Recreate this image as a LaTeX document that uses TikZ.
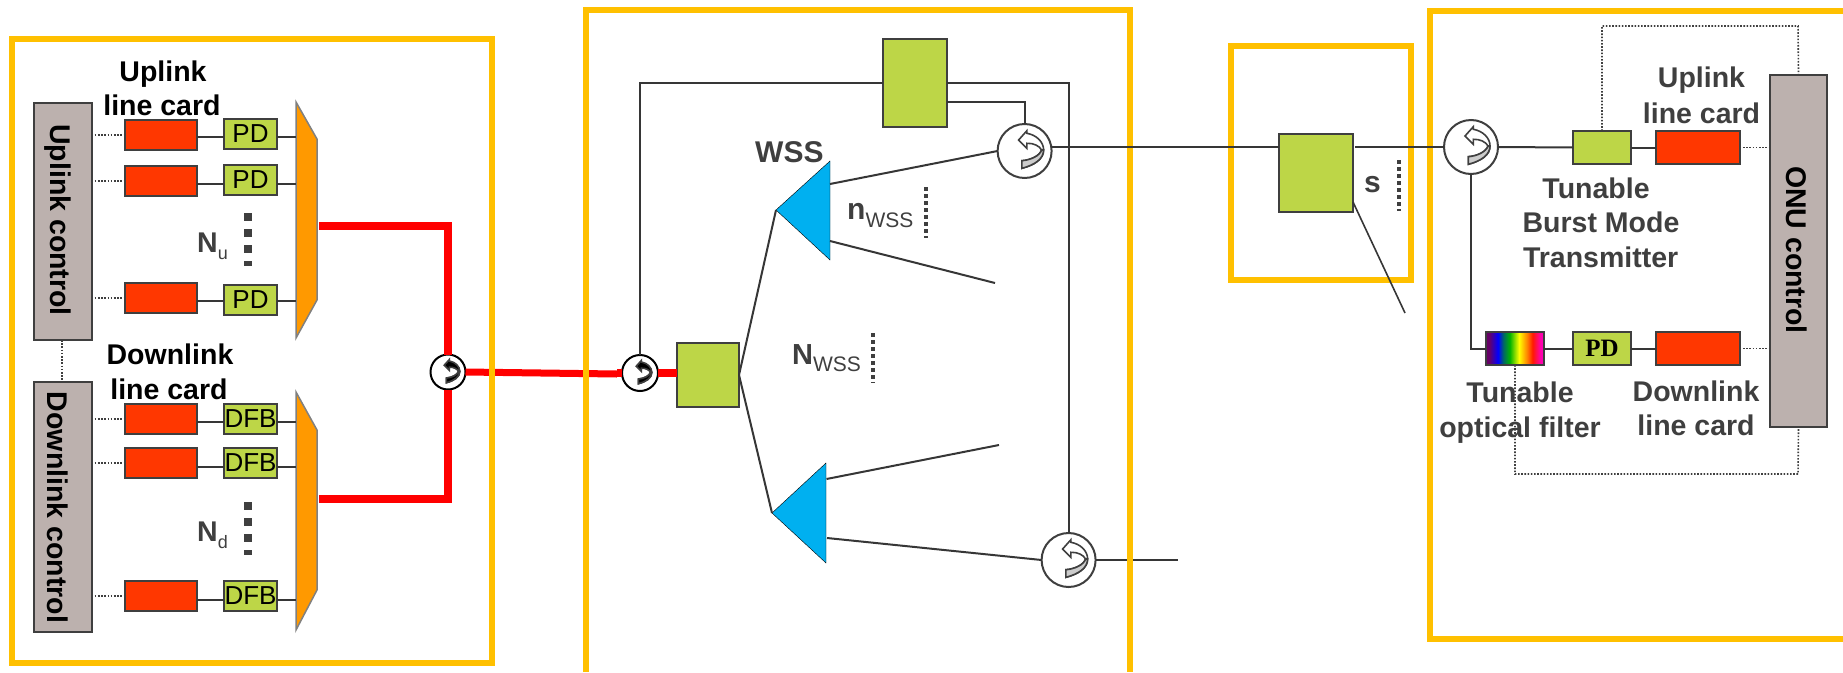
\documentclass[tikz,border=0pt]{standalone}
\usepackage{fontspec}
\setmainfont{Liberation Sans}
\newfontfamily\pdserif{Liberation Serif}
\usepackage{xcolor}
\definecolor{frameyellow}{HTML}{FFC000}
\definecolor{ctrlgray}{HTML}{BCB1AE}
\definecolor{cardred}{HTML}{FF3700}
\definecolor{boxgreen}{HTML}{BDD647}
\definecolor{muxorange}{HTML}{FF9900}
\definecolor{wssblue}{HTML}{00B0F0}
\definecolor{inkgray}{HTML}{3F3F3F}
\pgfdeclarehorizontalshading{rainbowband}{100bp}{color(0bp)=(violet!80!black); color(28bp)=(violet!80!black); color(35.5bp)=(blue); color(40bp)=(blue!50!green!80!black); color(45.5bp)=(green!70!black); color(53.5bp)=(yellow); color(60.5bp)=(orange); color(65bp)=(red!80!orange); color(72bp)=(magenta!70!red); color(100bp)=(magenta!70!red)}
\tikzset{
  frame/.style={draw=frameyellow,line width=6pt},
  fibre/.style={draw=inkgray!85!black,line width=2pt},
  redfibre/.style={draw=red,line width=8pt},
  ctrlline/.style={draw=inkgray,line width=1.6pt,dash pattern=on 1.6pt off 1.6pt},
  ctrlbox/.style={draw=inkgray,line width=2pt,fill=ctrlgray,inner sep=0pt,outer sep=0pt,minimum width=58pt},
  card/.style={draw=inkgray,line width=2pt,fill=cardred,inner sep=0pt,outer sep=0pt,minimum width=72pt,minimum height=30pt},
  onucard/.style={card,minimum width=84pt,minimum height=33pt},
  greenbox/.style={draw=inkgray,line width=2pt,fill=boxgreen,inner sep=0pt,outer sep=0pt,font=\fontsize{26}{26}\selectfont},
  smallgreen/.style={greenbox,minimum width=53pt,minimum height=30pt},
  onugreen/.style={greenbox,minimum width=58pt,minimum height=33pt},
  circulator/.style={circle,draw=inkgray,line width=2pt,fill=white,inner sep=0pt,outer sep=0pt,minimum size=54pt},
  minicirc/.style={circle,draw=black,line width=2pt,fill=white,inner sep=0pt,outer sep=0pt,minimum size=35pt},
  mux/.style={draw=gray,line width=1.5pt,fill=muxorange},
  wss/.style={fill=wssblue},
  blacklabel/.style={font=\fontsize{28.5}{30}\selectfont\bfseries,anchor=base,inner sep=0pt},
  graylabel/.style={blacklabel,text=inkgray},
  sidelabel/.style={blacklabel,rotate=-90,anchor=center},
  bigdots/.style={draw=inkgray,line width=8pt,dash pattern=on 8pt off 8pt},
  tinydots/.style={draw=inkgray,line width=3.5pt,dash pattern=on 3.5pt off 3.5pt},
  pics/circarrow/.style n args={2}{code={
    \filldraw[draw=inkgray,line width=1.6pt,fill=#1] (-6,-11) -- (2.3,-20.3) -- (2.3,-17.7) .. controls (12,-16) and (19,-9) .. (19,-1) .. controls (19,8) and (10,14) .. (-2.7,17.3) -- (-2.7,9.7) .. controls (6,9) and (15,5) .. (17,-1) .. controls (15,-5) and (9,-8) .. (2.3,-7.7) -- (2.3,-2.7) -- cycle;
    \filldraw[draw=inkgray,line width=1.6pt,fill=#2] (19,-1) .. controls (19,8) and (10,14) .. (-2.7,17.3) -- (-2.7,9.7) .. controls (6,9) and (15,5) .. (17,-1) -- cycle;
  }}
}

\begin{document}
\begin{tikzpicture}[x=1pt,y=-1pt]
\useasboundingbox (0,0) rectangle (1843,672);
% red trunk goes under the frames
\coordinate (muxuout) at (319,226);
\coordinate (muxdout) at (319,499);
\coordinate (trunkbend) at (617,374);
\node[minicirc] (headc) at (448,372) {};
\node[minicirc,minimum size=36pt] (splitc) at (640,373) {};
\node[greenbox,minimum width=62pt,minimum height=64pt] (split) at (708,375) {};
\draw[redfibre] (muxuout) -| (headc.north);
\draw[redfibre] (muxdout) -| (headc.south);
\draw[redfibre,line width=7pt] (headc.east) -- (trunkbend);
\draw[redfibre] (trunkbend |- splitc) -- (splitc.west);
\draw[redfibre] (splitc.east) -- (split.west |- splitc);
% frames
\draw[frame] (12,39) rectangle (492,663);
\draw[frame] (586,672) -- (586,10) -- (1130,10) -- (1130,672);
\draw[frame] (1231,46) rectangle (1411,280);
\draw[frame] (1843,11) -- (1430,11) -- (1430,639) -- (1843,639);

% uplink side of the head end
\node[ctrlbox,minimum height=237pt] (upctrl) at (62.5,221.5) {};
\node[sidelabel] (upctrltxt) at (58,220) {Uplink control};
\node[card] (ured1) at (161,135) {};
\node[card] (ured2) at (161,181) {};
\node[card] (ured3) at (161,298) {};
\node[smallgreen] (upd1) at (250.5,134) {PD};
\node[smallgreen] (upd2) at (250.5,180) {PD};
\node[smallgreen] (upd3) at (250.5,300) {PD};
\coordinate (muxu) at (296,220);
\filldraw[mux] (296,102) -- (317,139) -- (317,300) -- (296,338) -- cycle;
\draw[ctrlline] (upctrl.east |- ured1) -- (ured1.west);
\draw[ctrlline] (upctrl.east |- ured2) -- (ured2.west);
\draw[ctrlline] (upctrl.east |- ured3) -- (ured3.west);
\draw[fibre] ([yshift=-2pt]ured1.east) -- ([yshift=-3pt]upd1.west);
\draw[fibre] ([yshift=-3pt]ured2.east) -- ([yshift=-4pt]upd2.west);
\draw[fibre] ([yshift=-3pt]ured3.east) -- ([yshift=-1pt]upd3.west);
\draw[fibre] ([yshift=-3pt]upd1.east) -- ([yshift=-3pt]upd1.east -| muxu);
\draw[fibre] ([yshift=-4pt]upd2.east) -- ([yshift=-4pt]upd2.east -| muxu);
\draw[fibre] ([yshift=-1pt]upd3.east) -- ([yshift=-1pt]upd3.east -| muxu);
\node[blacklabel] (uptitle1) at (163,81) {Uplink};
\node[blacklabel] (uptitle2) at (162,115) {line card};
\node[graylabel,anchor=base west] (nu) at (197,252) {N\raisebox{-7pt}{\fontsize{18}{18}\selectfont\mdseries u}};
\draw[bigdots] (248,213) -- (248,266);

% downlink side of the head end
\node[ctrlbox,minimum height=250pt] (downctrl) at (62.5,507) {};
\node[sidelabel] (downctrltxt) at (58,507.5) {Downlink control};
\node[card] (dred1) at (161,419) {};
\node[card] (dred2) at (161,463) {};
\node[card] (dred3) at (161,596) {};
\node[smallgreen] (dfb1) at (250.5,419) {DFB};
\node[smallgreen] (dfb2) at (250.5,463) {DFB};
\node[smallgreen] (dfb3) at (250.5,596) {DFB};
\coordinate (muxd) at (296,510);
\filldraw[mux] (296,392) -- (317,430) -- (317,590) -- (296,630) -- cycle;
\draw[ctrlline] (downctrl.east |- dred1) -- (dred1.west);
\draw[ctrlline] (downctrl.east |- dred2) -- (dred2.west);
\draw[ctrlline] (downctrl.east |- dred3) -- (dred3.west);
\draw[fibre] ([yshift=-3pt]dred1.east) -- ([yshift=-3pt]dfb1.west);
\draw[fibre] ([yshift=-4pt]dred2.east) -- ([yshift=-4pt]dfb2.west);
\draw[fibre] ([yshift=-4pt]dred3.east) -- ([yshift=-4pt]dfb3.west);
\draw[fibre] ([yshift=-3pt]dfb1.east) -- ([yshift=-3pt]dfb1.east -| muxd);
\draw[fibre] ([yshift=-4pt]dfb2.east) -- ([yshift=-4pt]dfb2.east -| muxd);
\draw[fibre] ([yshift=-4pt]dfb3.east) -- ([yshift=-4pt]dfb3.east -| muxd);
\draw[ctrlline] ([xshift=-.5pt]upctrl.south) -- ([xshift=-.5pt]downctrl.north);
\node[blacklabel] (downtitle1) at (170,364) {Downlink};
\node[blacklabel] (downtitle2) at (169,399) {line card};
\node[graylabel,anchor=base west] (nd) at (197,541) {N\raisebox{-7pt}{\fontsize{18}{18}\selectfont\mdseries d}};
\draw[bigdots] (248,502) -- (248,555);

% feeder part
\pic[scale=.62] at (headc) {circarrow={black}{black}};
\pic[scale=.62] at (splitc) {circarrow={black}{black}};
\node[greenbox,minimum width=64.5pt,minimum height=88pt] (topbox) at (914.8,83) {};
\node[circulator] (cup) at (1024.6,151) {};
\node[circulator] (clow) at (1068.6,560) {};
\coordinate (wssuin) at (776,210);
\coordinate (wssdin) at (772,513);
\coordinate (wssuout1) at (830,184);
\coordinate (wssuout2) at (830,241);
\coordinate (wssdout1) at (826.5,479);
\coordinate (wssdout2) at (827,538);
\coordinate (openu) at (995,283);
\coordinate (opend) at (999,445);
\coordinate (lowend) at (1178,560);
\filldraw[wss] (wssuin) -- (830,161) -- (830,260) -- cycle;
\filldraw[wss] (wssdin) -- (826,463) -- (826,563) -- cycle;
\draw[fibre] (splitc.north) |- (topbox.west);
\draw[fibre] (topbox.east) -| (clow.north);
\draw[fibre] ([yshift=-19pt]topbox.east) -| (cup.north);
\draw[fibre] (split.east) -- (wssuin);
\draw[fibre] (split.east) -- (wssdin);
\draw[fibre] (cup.west) -- (wssuout1);
\draw[fibre] (wssuout2) -- (openu);
\draw[fibre] (wssdout1) -- (opend);
\draw[fibre] (wssdout2) -- (clow.west);
\draw[fibre] (clow.east) -- (1127,560);
\draw[fibre] (1133,560) -- (lowend);
\pic at (cup) {circarrow={white}{gray!40}};
\pic at (clow) {circarrow={white}{gray!40}};
\node[graylabel,font=\fontsize{30}{30}\selectfont\bfseries,anchor=base west] (wsstxt) at (755,162) {WSS};
\node[graylabel,font=\fontsize{30}{30}\selectfont\bfseries,anchor=base west] (nwss) at (847,219) {n\raisebox{-8pt}{\fontsize{21}{21}\selectfont\mdseries WSS}};
\node[graylabel,font=\fontsize{29}{30}\selectfont\bfseries,anchor=base west] (bignwss) at (792,364) {N\raisebox{-7pt}{\fontsize{21}{21}\selectfont\mdseries WSS}};
\draw[tinydots] (926,187) -- (926,238);
\draw[tinydots] (873,333) -- (873,383);

% splitter
\node[greenbox,minimum width=74pt,minimum height=78pt] (oltbox) at (1316,173) {};
\node[circulator] (conu) at (1471,147) {};
\coordinate (dropend) at (1405,313);
\draw[fibre] (cup.8) -- (oltbox.west |- cup.8);
\draw[fibre] (conu.west) -- ([xshift=2pt]conu.west -| oltbox.east);
\draw[fibre,line width=1.6pt] ([yshift=-29pt]oltbox.east) -- (dropend);
\node[graylabel,font=\fontsize{30}{30}\selectfont\bfseries] (stxt) at (1372.5,192) {s};
\draw[tinydots] (1399,160) -- (1399,211);

% ONU
\node[ctrlbox,minimum width=57pt,minimum height=352pt] (onuctrl) at (1798.5,251) {};
\node[sidelabel] (onutxt) at (1797,250) {ONU control};
\node[onugreen] (tbmt) at (1602,147.5) {};
\node[onucard] (ured4) at (1698,147.5) {};
\node[draw=inkgray,line width=2pt,shading=rainbowband,inner sep=0pt,outer sep=0pt,minimum width=58.5pt,minimum height=33pt] (filter) at (1515,348.5) {};
\node[onugreen,font=\pdserif\bfseries\fontsize{25}{25}\selectfont] (onupd) at (1602,348.5) {PD};
\node[onucard] (dred4) at (1698,348.5) {};
\draw[fibre] (conu.east) -- (tbmt.west);
\draw[fibre] (tbmt.east) -- (ured4.west);
\draw[fibre] (conu.south) |- (filter.west);
\draw[fibre] (filter.east) -- (onupd.west);
\draw[fibre] (onupd.east) -- (dred4.west);
\draw[ctrlline] ([xshift=3pt]ured4.east) -- (ured4.east -| onuctrl.west);
\draw[ctrlline] ([xshift=3pt]dred4.east) -- (dred4.east -| onuctrl.west);
\draw[ctrlline] (tbmt.north) |- (1798,26) -- (onuctrl.north);
\draw[ctrlline] (filter.south) |- (1798,474) -- (onuctrl.south);
\pic at (conu) {circarrow={white}{gray!40}};
\node[graylabel] (onuup1) at (1701.5,87) {Uplink};
\node[graylabel] (onuup2) at (1701.5,123) {line card};
\node[graylabel] (tbm1) at (1596,198) {Tunable};
\node[graylabel] (tbm2) at (1601,232) {Burst Mode};
\node[graylabel] (tbm3) at (1600.6,267) {Transmitter};
\node[graylabel] (tof1) at (1520,402) {Tunable};
\node[graylabel] (tof2) at (1520,437) {optical filter};
\node[graylabel] (onudown1) at (1696,401) {Downlink};
\node[graylabel] (onudown2) at (1696,435) {line card};
\end{tikzpicture}
\end{document}
